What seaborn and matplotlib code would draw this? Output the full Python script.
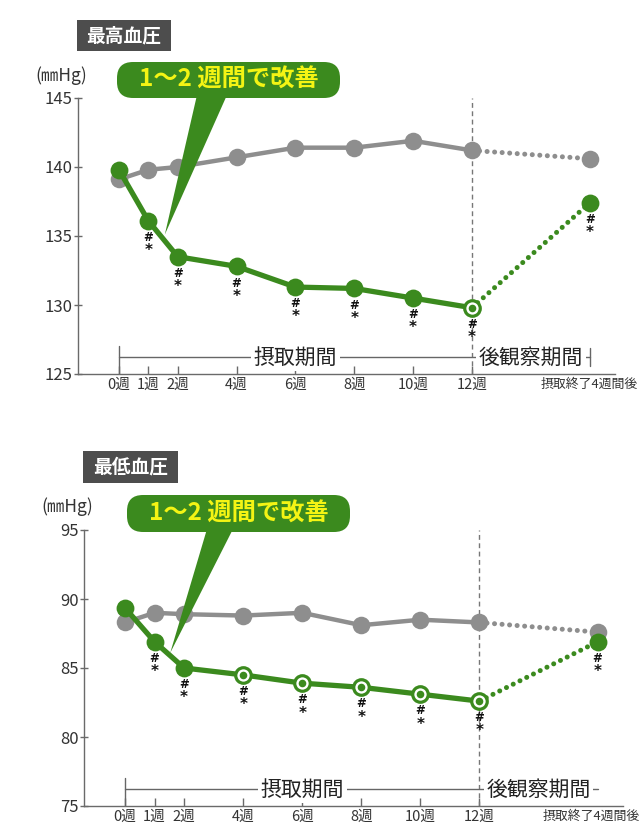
import numpy as np
import pandas as pd
import matplotlib
matplotlib.use("Agg")
import matplotlib.pyplot as plt
import matplotlib.transforms as mtransforms
from matplotlib.patches import FancyBboxPatch, Polygon
import seaborn as sns

# ---------------- data ----------------
weeks = [0, 1, 2, 4, 6, 8, 10, 12, 16]
xlabels = ["0週", "1週", "2週", "4週", "6週", "8週", "10週", "12週", "摂取終了4週間後"]

sbp_control = [139.1, 139.8, 140.0, 140.7, 141.4, 141.4, 141.9, 141.2, 140.6]
sbp_test = [139.8, 136.1, 133.5, 132.8, 131.3, 131.2, 130.5, 129.8, 137.4]
sbp_ring = [False, False, False, False, False, False, False, True, False]

dbp_control = [88.3, 89.0, 88.9, 88.8, 89.0, 88.1, 88.5, 88.3, 87.6]
dbp_test = [89.35, 86.9, 85.0, 84.5, 83.9, 83.6, 83.1, 82.6, 86.9]
dbp_ring = [False, False, False, True, True, True, True, True, False]

significant = [False, True, True, True, True, True, True, True, True]

titles = ["最高血圧", "最低血圧"]
unit_label = "(㎜Hg)"
callout_text = "1～2 週間で改善"
period_in = "摂取期間"
period_post = "後観察期間"

GREEN = "#3b8a1e"
GRAY = "#8e8e8e"
YELLOW = "#f4f414"
DARK = "#4d4d4d"
SPINE = "#6a6a6a"

W, H = 640, 836

sns.set_theme(style="white")
plt.rcParams["font.family"] = ["Noto Sans CJK JP", "DejaVu Sans"]

fig = plt.figure(figsize=(W / 100, H / 100), dpi=100)


def fx(px):
    return px / W


def fy(py):
    return 1 - py / H


panels = [
    dict(control=sbp_control, test=sbp_test, ring=sbp_ring,
         rect=[fx(78), fy(374), fx(615) - fx(78), (374 - 98) / H],
         ylim=(125, 145), yticks=[125, 130, 135, 140, 145],
         title=titles[0], tbox=(77, 20, 171, 51), unit=(61, 76),
         cbox=(117, 62, 340, 98), wbase=(197, 227), tip=(1.56, 135.1),
         end_tick=True, last_shift=0),
    dict(control=dbp_control, test=dbp_test, ring=dbp_ring,
         rect=[fx(84), fy(806), fx(623) - fx(84), (806 - 530) / H],
         ylim=(75, 95), yticks=[75, 80, 85, 90, 95],
         title=titles[1], tbox=(83, 451, 178, 483), unit=(67, 507),
         cbox=(127, 495, 350, 532), wbase=(207, 233), tip=(1.53, 86.1),
         end_tick=False, last_shift=-6),
]

for p in panels:
    ax = fig.add_axes(p["rect"])
    df = pd.DataFrame({"week": weeks, "control": p["control"], "test": p["test"],
                       "ring": p["ring"], "sig": significant})
    main = df[df.week <= 12]
    post = df[df.week >= 12]

    # control (gray)
    sns.lineplot(data=main, x="week", y="control", ax=ax, color=GRAY, lw=3.2,
                 estimator=None, zorder=2)
    sns.lineplot(data=post, x="week", y="control", ax=ax, color=GRAY, lw=3.6,
                 estimator=None, zorder=2, linestyle=(0, (0.01, 1.5)),
                 dash_capstyle="round")
    sns.scatterplot(data=df, x="week", y="control", ax=ax, color=GRAY, s=160,
                    linewidth=0, zorder=3)

    # test (green)
    sns.lineplot(data=main, x="week", y="test", ax=ax, color=GREEN, lw=3.8,
                 estimator=None, zorder=4)
    sns.lineplot(data=post, x="week", y="test", ax=ax, color=GREEN, lw=3.6,
                 estimator=None, zorder=4, linestyle=(0, (0.01, 1.5)),
                 dash_capstyle="round")
    filled = df[~df.ring]
    rings = df[df.ring]
    sns.scatterplot(data=filled, x="week", y="test", ax=ax, color=GREEN, s=165,
                    linewidth=0, zorder=5)
    sns.scatterplot(data=rings, x="week", y="test", ax=ax, facecolor="white",
                    edgecolor=GREEN, s=125, linewidth=2.3, zorder=5)
    sns.scatterplot(data=rings, x="week", y="test", ax=ax, color=GREEN, s=30,
                    linewidth=0, zorder=6)

    for _, r in df[df.sig].iterrows():
        ax.annotate("#", (r.week, r.test), xytext=(0, -12), textcoords="offset points",
                    ha="center", va="center", fontsize=8.5, fontweight="bold",
                    family="DejaVu Sans", color="#111111", zorder=7)
        ax.annotate("*", (r.week, r.test), xytext=(0, -21.5), textcoords="offset points",
                    ha="center", va="center", fontsize=11, fontweight="bold",
                    family="DejaVu Sans", color="#111111", zorder=7)

    ax.set_xlim(-1.39, 16.86)
    ax.set_ylim(*p["ylim"])
    ax.set_yticks(p["yticks"])
    ax.set_xticks(weeks)
    ax.set_xticklabels(xlabels)
    ax.set_xlabel("")
    ax.set_ylabel("")
    for s in ["top", "right"]:
        ax.spines[s].set_visible(False)
    for s in ["left", "bottom"]:
        ax.spines[s].set_color(SPINE)
        ax.spines[s].set_linewidth(1.0)
    ax.tick_params(axis="y", direction="inout", length=6, width=1, color=SPINE,
                   labelsize=12, labelcolor="#333333", pad=1, left=True)
    ax.tick_params(axis="x", direction="in", length=6, width=1, color=SPINE,
                   labelsize=10.5, labelcolor="#333333", pad=3, bottom=True)
    last = ax.get_xticklabels()[-1]
    last.set_fontsize(9.3)
    last.set_transform(last.get_transform() +
                       mtransforms.ScaledTranslation(p["last_shift"] / 100, 0,
                                                     fig.dpi_scale_trans))
    ax.xaxis.get_major_ticks()[-1].tick1line.set_visible(False)
    ax.patch.set_alpha(0)

    # vertical dashed line at 12 weeks
    ax.axvline(12, color="#777777", lw=1, linestyle=(0, (3.5, 2.5)), zorder=1)

    # period bracket
    trans = mtransforms.blended_transform_factory(ax.transData, ax.transAxes)
    yb = 0.06
    ax.plot([0, 16], [yb, yb], transform=trans, color="#666666", lw=1, zorder=1)
    ax.plot([0, 0], [0, 0.10], transform=trans, color="#666666", lw=1, zorder=1)
    if p["end_tick"]:
        ax.plot([16, 16], [0.03, 0.095], transform=trans, color="#666666", lw=1, zorder=1)
    ax.text(6, yb, period_in, transform=trans, ha="center", va="center", fontsize=15,
            color="#222222", zorder=2,
            bbox=dict(fc="white", ec="none", pad=2))
    ax.text(14, yb, period_post, transform=trans, ha="center", va="center", fontsize=15,
            color="#222222", zorder=2,
            bbox=dict(fc="white", ec="none", pad=2))

    # title box
    x0, y0, x1, y1 = p["tbox"]
    fig.patches.append(FancyBboxPatch((fx(x0), fy(y1)), fx(x1) - fx(x0), fy(y0) - fy(y1),
                                      boxstyle="square,pad=0", fc=DARK, ec="none",
                                      transform=fig.transFigure, figure=fig))
    fig.text(fx((x0 + x1) / 2), fy((y0 + y1) / 2), p["title"], ha="center", va="center",
             color="white", fontsize=13.5, fontweight="bold")
    fig.text(fx(p["unit"][0]), fy(p["unit"][1]), unit_label, ha="center", va="center",
             color="#333333", fontsize=12.5)

    # callout
    cx0, cy0, cx1, cy1 = p["cbox"]
    tip_disp = ax.transData.transform(p["tip"])
    tip_fig = fig.transFigure.inverted().transform(tip_disp)
    wedge = Polygon([(fx(p["wbase"][0]), fy(cy1 - 3)), (fx(p["wbase"][1]), fy(cy1 - 3)),
                     tuple(tip_fig)], closed=True, fc=GREEN, ec="none",
                    transform=fig.transFigure, figure=fig, zorder=5)
    fig.patches.append(wedge)
    box = FancyBboxPatch((fx(cx0), fy(cy1)), fx(cx1) - fx(cx0), fy(cy0) - fy(cy1),
                         boxstyle="round,pad=0,rounding_size=%f" % fx(16),
                         mutation_aspect=W / H, fc=GREEN, ec="none",
                         transform=fig.transFigure, figure=fig, zorder=5)
    fig.patches.append(box)
    fig.text(fx((cx0 + cx1) / 2), fy((cy0 + cy1) / 2), callout_text, ha="center",
             va="center", color=YELLOW, fontsize=17.5, fontweight="bold", zorder=6)

fig.savefig("out.png", dpi=100)
